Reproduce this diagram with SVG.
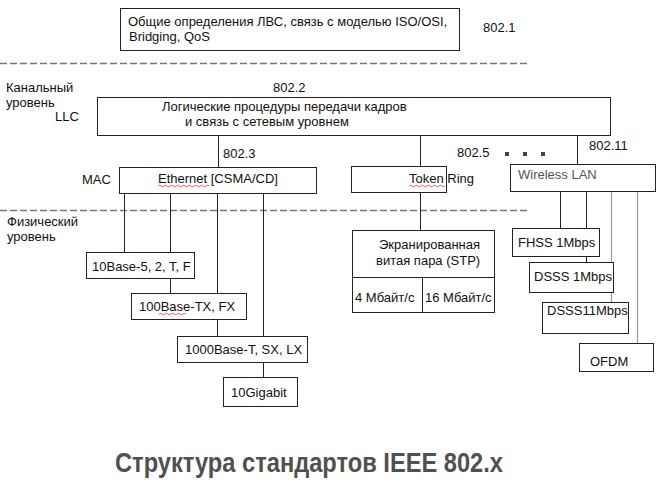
<svg xmlns="http://www.w3.org/2000/svg" width="658" height="481" viewBox="0 0 658 481">
<style>
.t{font-family:"Liberation Sans",Arial,sans-serif;font-size:13px;fill:#111}
.g{fill:#555}
.box{fill:#fff;stroke:#222;stroke-width:1}
.ln{stroke:#222;stroke-width:1;fill:none}
.lg{stroke:#999;stroke-width:1.2;fill:none}
.dash{stroke:#777;stroke-width:1.5;stroke-dasharray:7 3;fill:none}
.sq{stroke:#d33;stroke-width:0.8;fill:none}
.title{font-family:"Liberation Sans",Arial,sans-serif;font-size:27px;font-weight:bold;fill:#505050}
</style>
<rect width="658" height="481" fill="#fff"/>
<g id="connectors">
  <line class="dash" x1="0" y1="63.5" x2="527" y2="63.5"/>
  <line class="dash" x1="0" y1="210.5" x2="527" y2="210.5"/>
  <line class="ln" x1="218.5" y1="135.5" x2="218.5" y2="167.5"/>
  <line class="ln" x1="420.5" y1="135.5" x2="420.5" y2="230.5"/>
  <line class="ln" x1="577.5" y1="135.5" x2="577.5" y2="164.5"/>
  <line class="ln" x1="124.5" y1="193.5" x2="124.5" y2="252.5"/>
  <line class="ln" x1="170.5" y1="193.5" x2="170.5" y2="293.5"/>
  <line class="ln" x1="217.5" y1="193.5" x2="217.5" y2="336.5"/>
  <line class="ln" x1="263.5" y1="193.5" x2="263.5" y2="377.5"/>
  <line class="ln" x1="560.5" y1="191.5" x2="560.5" y2="228.5" stroke="#555"/>
  <line class="ln" x1="586.5" y1="191.5" x2="586.5" y2="262.5" stroke="#555"/>
  <line class="lg" x1="611.5" y1="191.5" x2="611.5" y2="302.5"/>
  <line class="lg" x1="637.5" y1="191.5" x2="637.5" y2="343.5"/>
</g>
<g id="labels">
  <text class="t" x="483" y="32">802.1</text>
  <text class="t" x="273" y="92">802.2</text>
  <text class="t" x="223" y="158">802.3</text>
  <text class="t" x="457" y="157">802.5</text>
  <text class="t" x="589" y="150">802.11</text>
  <text class="t" x="6" y="92">Канальный</text>
  <text class="t" x="6" y="107">уровень</text>
  <text class="t" x="55" y="121">LLC</text>
  <text class="t" x="82" y="184">MAC</text>
  <text class="t" x="7" y="226">Физический</text>
  <text class="t" x="7" y="241">уровень</text>
  <rect x="505" y="152" width="4" height="4" fill="#444"/>
  <rect x="523" y="152" width="4" height="4" fill="#444"/>
  <rect x="541" y="152" width="4" height="4" fill="#444"/>
</g>
<g id="general">
  <rect class="box" x="120.5" y="8.5" width="339" height="42"/>
  <text class="t" x="128" y="26">Общие определения ЛВС, связь с моделью ISO/OSI,</text>
  <text class="t" x="129" y="41">Bridging, QoS</text>
</g>
<g id="llc">
  <rect class="box" x="97.5" y="97.5" width="513" height="38"/>
  <text class="t" x="162" y="111">Логические процедуры передачи кадров</text>
  <text class="t" x="185" y="126">и связь с сетевым уровнем</text>
</g>
<g id="ethernet">
  <rect class="box" x="119.5" y="167.5" width="197" height="26"/>
  <text class="t" x="158" y="183">Ethernet [CSMA/CD]</text>
  <path class="sq" d="M158 186 q1.5 -1.5 3 0 t3 0 t3 0 t3 0 t3 0 t3 0 t3 0 t3 0 t3 0 t3 0 t3 0 t3 0 t3 0 t3 0 t3 0 t3 0 t3 0"/>
</g>
<g id="token-ring">
  <rect class="box" x="351.5" y="166.5" width="95" height="26"/>
  <text class="t" x="409" y="183">Token Ring</text>
  <path class="sq" d="M409 186 q1.5 -1.5 3 0 t3 0 t3 0 t3 0 t3 0 t3 0 t3 0 t3 0 t3 0 t3 0 t3 0 t3 0"/>
</g>
<g id="wireless-lan">
  <rect class="box" x="510.5" y="164.5" width="145" height="27"/>
  <text class="t g" x="518" y="179">Wireless LAN</text>
</g>
<g id="base10">
  <rect class="box" x="86.5" y="252.5" width="108" height="26"/>
  <text class="t" x="92" y="271">10Base-5, 2, T, F</text>
</g>
<g id="base100">
  <rect class="box" x="131.5" y="293.5" width="115" height="26"/>
  <text class="t" x="139" y="311">100Base-TX, FX</text>
  <path class="sq" d="M159 314 q1.5 -1.5 3 0 t3 0 t3 0 t3 0 t3 0 t3 0 t3 0 t3 0 t3 0"/>
</g>
<g id="base1000">
  <rect class="box" x="177.5" y="336.5" width="130" height="26"/>
  <text class="t" x="185" y="354">1000Base-T, SX, LX</text>
</g>
<g id="gigabit10">
  <rect class="box" x="223.5" y="377.5" width="74" height="29"/>
  <text class="t" x="231" y="397">10Gigabit</text>
</g>
<g id="stp">
  <rect class="box" x="352.5" y="230.5" width="142" height="82"/>
  <line class="ln" x1="352.5" y1="277.5" x2="494.5" y2="277.5"/>
  <line class="ln" x1="422.5" y1="277.5" x2="422.5" y2="312.5"/>
  <text class="t" x="379" y="249">Экранированная</text>
  <text class="t" x="376" y="265">витая пара (STP)</text>
  <text class="t" x="355" y="302">4 Мбайт/с</text>
  <text class="t" x="425" y="302">16 Мбайт/с</text>
</g>
<g id="fhss">
  <rect class="box" x="512.5" y="228.5" width="87" height="28"/>
  <text class="t" x="518" y="247">FHSS 1Mbps</text>
</g>
<g id="dsss1">
  <rect class="box" x="529.5" y="262.5" width="84" height="30"/>
  <text class="t" x="534" y="281">DSSS 1Mbps</text>
</g>
<g id="dsss11">
  <rect class="box" x="542.5" y="302.5" width="86" height="31"/>
  <text class="t" x="547" y="315">DSSS11Mbps</text>
</g>
<g id="ofdm">
  <rect class="box" x="579.5" y="343.5" width="74" height="28"/>
  <text class="t" x="590" y="366">OFDM</text>
</g>
<g id="title">
  <text class="title" x="115" y="472" textLength="388" lengthAdjust="spacingAndGlyphs">Структура стандартов IEEE 802.x</text>
</g>
</svg>
